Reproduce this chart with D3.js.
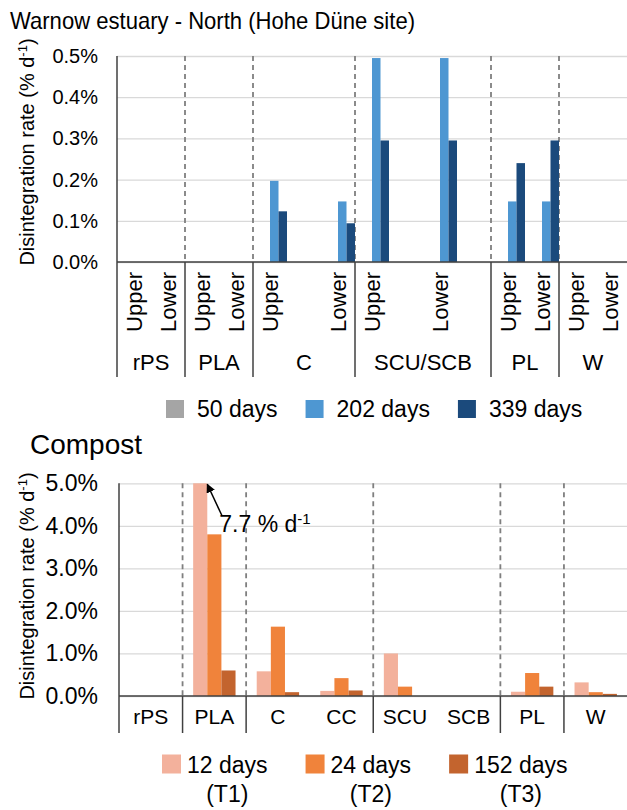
<!DOCTYPE html>
<html>
<head>
<meta charset="utf-8">
<script src="https://cdn.jsdelivr.net/npm/d3@7"></script>
<style>
  body { margin: 0; background: #fff; }
  svg { display: block; }
  text { font-family: "Liberation Sans", Arial, Helvetica, sans-serif; fill: #000; }
</style>
</head>
<body>
<svg id="fig" width="627" height="810"></svg>
<script>
// ---------- Warnow estuary – North (Hohe Düne site) ----------
// category axis slots: exposure depth inside each material group
const warnowSlotGroup = ["rPS", "rPS", "PLA", "PLA", "C", "C", "C",
  "SCU/SCB", "SCU/SCB", "SCU/SCB", "SCU/SCB", "PL", "PL", "W", "W"];
const warnowSlotLabel = ["Upper", "Lower", "Upper", "Lower", "Upper", "", "Lower",
  "Upper", "", "Lower", "", "Upper", "Lower", "Upper", "Lower"];
const warnowSeries = ["50 days", "202 days", "339 days"];
const warnow50 = [0, 0, 0, 0, 0, null, 0, 0, null, 0, null, 0, 0, 0, 0];
const warnow202 = [0, 0, 0, 0, 0.197, null, 0.147, 0.495, null, 0.495, null, 0.147, 0.147, 0, 0];
const warnow339 = [0, 0, 0, 0, 0.123, null, 0.094, 0.295, null, 0.295, null, 0.240, 0.295, 0, 0];
const warnowTicks = [0, 0.1, 0.2, 0.3, 0.4, 0.5];

// ---------- Compost ----------
const compostCats = ["rPS", "PLA", "C", "CC", "SCU", "SCB", "PL", "W"];
const compostGroup = ["rPS", "PLA", "C", "C", "SCU", "SCU", "PL", "W"];
const compostSeries = ["12 days", "24 days", "152 days"];
const compostSeriesSub = ["(T1)", "(T2)", "(T3)"];
const compost12 = [0, 7.7, 0.58, 0.12, 1.0, 0, 0.10, 0.32];
const compost24 = [0, 3.8, 1.63, 0.42, 0.22, 0, 0.54, 0.09];
const compost152 = [0, 0.60, 0.09, 0.13, 0, 0, 0.22, 0.05];
const compostTicks = [0, 1, 2, 3, 4, 5];

const warnowColors = ["#a5a5a5", "#4e97d2", "#1b4a7c"];
const compostColors = ["#f3b19c", "#f0833b", "#c3642e"];

const svg = d3.select("#fig");
const GRID = "#d9d9d9", AXIS = "#404040", DASH = "#7f7f7f";

function addYTitle(g, cx, cy) {
  const t = g.append("text")
    .attr("transform", `translate(${cx},${cy}) rotate(-90)`)
    .attr("text-anchor", "middle")
    .style("font-size", "20px");
  t.append("tspan").text("Disintegration rate (% d");
  t.append("tspan").attr("baseline-shift", "super").style("font-size", "13px").text("-1");
  t.append("tspan").text(")");
}

// ================= top panel =================
(function () {
  const left = 117, right = 627, top = 56, base = 262, labelBottom = 377;
  const x = d3.scaleBand().domain(d3.range(warnowSlotLabel.length)).range([left, right]).padding(0);
  const xs = d3.scaleBand().domain(warnowSeries).range([0, x.bandwidth()])
    .paddingInner(0).paddingOuter(0.5).align(1);
  const y = d3.scaleLinear().domain([0, 0.5]).range([base, top]);
  const g = svg.append("g");

  svg.append("text").attr("x", 10).attr("y", 29).style("font-size", "24px")
    .attr("textLength", 405).attr("lengthAdjust", "spacingAndGlyphs")
    .text("Warnow estuary - North (Hohe Düne site)");

  // gridlines + tick labels
  const ya = g.append("g").attr("transform", `translate(${left},0)`)
    .call(d3.axisLeft(y).tickValues(warnowTicks)
      .tickFormat(v => v.toFixed(1) + "%")
      .tickSize(-(right - left)).tickPadding(19));
  ya.select(".domain").remove();
  ya.selectAll(".tick line").attr("stroke", GRID).attr("stroke-width", 1.3);
  ya.selectAll(".tick text").style("font-size", "20px").attr("fill", "#000");

  // group dividers
  const dividers = d3.range(1, warnowSlotGroup.length)
    .filter(i => warnowSlotGroup[i] !== warnowSlotGroup[i - 1]).map(i => x(i));
  g.selectAll(".dash").data(dividers).join("line")
    .attr("x1", d => d).attr("x2", d => d).attr("y1", top).attr("y2", base)
    .attr("stroke", DASH).attr("stroke-width", 1.8).attr("stroke-dasharray", "5,4");

  // bars
  const seriesVals = [warnow50, warnow202, warnow339];
  warnowSeries.forEach((s, si) => {
    g.append("g").selectAll("rect")
      .data(seriesVals[si].map((v, i) => ({ i, v })).filter(d => d.v !== null && d.v > 0))
      .join("rect")
      .attr("x", d => x(d.i) + xs(s)).attr("width", xs.bandwidth())
      .attr("y", d => y(d.v)).attr("height", d => base - y(d.v))
      .attr("fill", warnowColors[si]);
  });

  // axis lines and label-area dividers
  g.append("line").attr("x1", left).attr("x2", right).attr("y1", base).attr("y2", base)
    .attr("stroke", AXIS).attr("stroke-width", 1.6);
  g.selectAll(".sep").data([left, ...dividers]).join("line")
    .attr("x1", d => d).attr("x2", d => d).attr("y1", d => d === left ? top : base).attr("y2", labelBottom)
    .attr("stroke", AXIS).attr("stroke-width", 1.5);

  // slot labels (rotated)
  const xa = g.append("g").attr("transform", `translate(0,${base})`)
    .call(d3.axisBottom(x).tickSize(0).tickFormat(i => warnowSlotLabel[i]));
  xa.select(".domain").remove();
  xa.selectAll(".tick text")
    .attr("transform", "rotate(-90)")
    .attr("x", -10).attr("y", 0).attr("dy", "0.36em")
    .attr("text-anchor", "end").style("font-size", "22px").attr("fill", "#000");

  // group labels
  const groups = Array.from(new Set(warnowSlotGroup));
  g.selectAll(".grp").data(groups).join("text")
    .attr("x", gname => {
      const idx = warnowSlotGroup.map((d, i) => d === gname ? i : -1).filter(i => i >= 0);
      return (x(idx[0]) + x(idx[idx.length - 1]) + x.bandwidth()) / 2;
    })
    .attr("y", 370).attr("text-anchor", "middle").style("font-size", "22px").text(d => d);

  addYTitle(svg, 34, 152);

  // legend
  let lx = 166;
  const ly = 409;
  warnowSeries.forEach((s, si) => {
    svg.append("rect").attr("x", lx).attr("y", ly - 9).attr("width", 18).attr("height", 18)
      .attr("fill", warnowColors[si]);
    const t = svg.append("text").attr("x", lx + 31).attr("y", ly + 8).style("font-size", "23px").text(s);
    lx += 31 + t.node().getComputedTextLength() + 28;
  });
})();

// ================= bottom panel =================
(function () {
  const left = 119, right = 627.5, top = 483.3, base = 696, labelBottom = 733;
  const x = d3.scaleBand().domain(compostCats).range([left, right]).padding(0);
  const xs = d3.scaleBand().domain(compostSeries).range([0, x.bandwidth()])
    .paddingInner(0).paddingOuter(0.75);
  const y = d3.scaleLinear().domain([0, 5]).range([base, top]).clamp(true);
  const g = svg.append("g");

  svg.append("text").attr("x", 30).attr("y", 454).style("font-size", "28px").text("Compost");

  const ya = g.append("g").attr("transform", `translate(${left},0)`)
    .call(d3.axisLeft(y).tickValues(compostTicks)
      .tickFormat(v => v.toFixed(1) + "%")
      .tickSize(-(right - left)).tickPadding(21));
  ya.select(".domain").remove();
  ya.selectAll(".tick line").attr("stroke", GRID).attr("stroke-width", 1.3);
  ya.selectAll(".tick text").style("font-size", "23px").attr("fill", "#000");

  const dividers = d3.range(1, compostCats.length)
    .filter(i => compostGroup[i] !== compostGroup[i - 1]).map(i => x(compostCats[i]));
  g.selectAll(".dash").data(dividers).join("line")
    .attr("x1", d => d).attr("x2", d => d).attr("y1", top).attr("y2", base)
    .attr("stroke", DASH).attr("stroke-width", 1.8).attr("stroke-dasharray", "5,4");

  const seriesVals = [compost12, compost24, compost152];
  compostSeries.forEach((s, si) => {
    g.append("g").selectAll("rect")
      .data(seriesVals[si].map((v, i) => ({ c: compostCats[i], v })).filter(d => d.v > 0))
      .join("rect")
      .attr("x", d => x(d.c) + xs(s)).attr("width", xs.bandwidth())
      .attr("y", d => y(d.v)).attr("height", d => base - y(d.v))
      .attr("fill", compostColors[si]);
  });

  g.append("line").attr("x1", left).attr("x2", right).attr("y1", base).attr("y2", base)
    .attr("stroke", AXIS).attr("stroke-width", 1.6);
  g.selectAll(".sep").data([left, ...dividers]).join("line")
    .attr("x1", d => d).attr("x2", d => d).attr("y1", d => d === left ? top : base).attr("y2", labelBottom)
    .attr("stroke", AXIS).attr("stroke-width", 1.5);

  const xa = g.append("g").attr("transform", `translate(0,${base})`)
    .call(d3.axisBottom(x).tickSize(0).tickPadding(13));
  xa.select(".domain").remove();
  xa.selectAll(".tick text").style("font-size", "21px").attr("fill", "#000");

  // annotation for the off-scale PLA bar
  const pla = compostCats[1];
  const hx = x(pla) + xs(compostSeries[0]) + xs.bandwidth(), hy = y(compost12[1]) + 1;
  const tx = hx + 14.5, ty = hy + 31;
  const defs = svg.append("defs");
  defs.append("marker").attr("id", "head").attr("viewBox", "0 0 10 10")
    .attr("refX", 9).attr("refY", 5).attr("markerWidth", 6).attr("markerHeight", 6)
    .attr("orient", "auto-start-reverse")
    .append("path").attr("d", "M0,0 L10,5 L0,10 z").attr("fill", "#000");
  g.append("line").attr("x1", tx).attr("y1", ty).attr("x2", hx).attr("y2", hy)
    .attr("stroke", "#000").attr("stroke-width", 1.5).attr("marker-end", "url(#head)");
  const at = g.append("text").attr("x", tx - 2.5).attr("y", ty + 17).style("font-size", "23px");
  at.append("tspan").text(compost12[1].toFixed(1) + " % d");
  at.append("tspan").attr("baseline-shift", "super").style("font-size", "15px").text("-1");

  addYTitle(svg, 34, 586);

  // legend with time-point codes
  let lx = 162;
  const ly = 764;
  compostSeries.forEach((s, si) => {
    svg.append("rect").attr("x", lx).attr("y", ly - 9.5).attr("width", 19).attr("height", 19)
      .attr("fill", compostColors[si]);
    const t = svg.append("text").attr("x", lx + 25).attr("y", ly + 9).style("font-size", "23px").text(s);
    const w = t.node().getComputedTextLength();
    svg.append("text").attr("x", lx + 25 + w / 2).attr("y", ly + 38)
      .attr("text-anchor", "middle").style("font-size", "23px").text(compostSeriesSub[si]);
    lx += 25 + w + 38;
  });
})();
</script>
</body>
</html>
